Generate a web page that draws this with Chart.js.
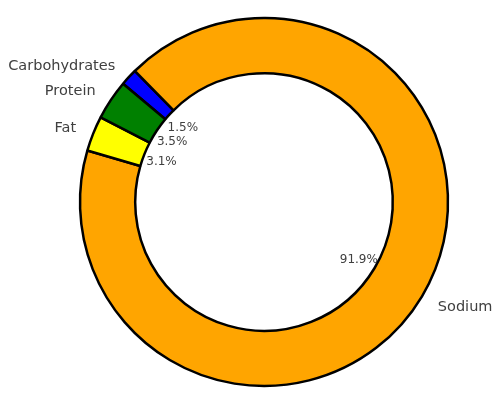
<!DOCTYPE html>
<html>
<head>
<meta charset="utf-8">
<script src="https://cdn.jsdelivr.net/npm/chart.js@4.4.1/dist/chart.umd.min.js"></script>
<style>
  html, body { margin: 0; padding: 0; background: #fff; }
  canvas { display: block; }
</style>
</head>
<body>
<canvas id="nutri" width="498" height="407"></canvas>
<script>
// data, clockwise order starting at 140deg (matplotlib-style)
const labels = ['Carbohydrates', 'Sodium', 'Fat', 'Protein'];
const values = [1.5, 91.9, 3.1, 3.5];
const colors = ['#0000ff', '#ffa500', '#ffff00', '#008000'];

const total = values.reduce((a, b) => a + b, 0);

// labels outside + percentages inside, like plt.pie(autopct=...)
const pieText = {
  id: 'pieText',
  afterDraw(chart) {
    const ctx = chart.ctx;
    const arcs = chart.getDatasetMeta(0).data;
    ctx.save();
    ctx.fillStyle = '#404040';
    ctx.textBaseline = 'middle';
    arcs.forEach((arc, i) => {
      const p = arc.getProps(['x', 'y', 'startAngle', 'endAngle', 'outerRadius']);
      const mid = (p.startAngle + p.endAngle) / 2;
      const cx = Math.cos(mid), cy = Math.sin(mid);

      ctx.font = '14.5px "DejaVu Sans"';
      ctx.textAlign = cx > 0 ? 'left' : 'right';
      ctx.fillText(labels[i], p.x + cx * p.outerRadius * 1.1, p.y + cy * p.outerRadius * 1.1 + 1.5);

      ctx.font = '12px "DejaVu Sans"';
      ctx.textAlign = 'center';
      const pct = (values[i] / total * 100).toFixed(1) + '%';
      ctx.fillText(pct, p.x + cx * p.outerRadius * 0.6, p.y + cy * p.outerRadius * 0.6 + 1);
    });
    ctx.restore();
  }
};

new Chart(document.getElementById('nutri'), {
  type: 'doughnut',
  data: {
    labels: labels,
    datasets: [{
      data: values,
      backgroundColor: colors,
      borderColor: '#000',
      borderWidth: 2.5
    }]
  },
  options: {
    responsive: false,
    animation: false,
    rotation: -50,
    radius: 184,
    cutout: '70%',
    layout: { padding: { left: 30, right: 0, top: 0, bottom: 3 } },
    plugins: {
      legend: { display: false },
      tooltip: { enabled: false }
    }
  },
  plugins: [pieText]
});
</script>
</body>
</html>
